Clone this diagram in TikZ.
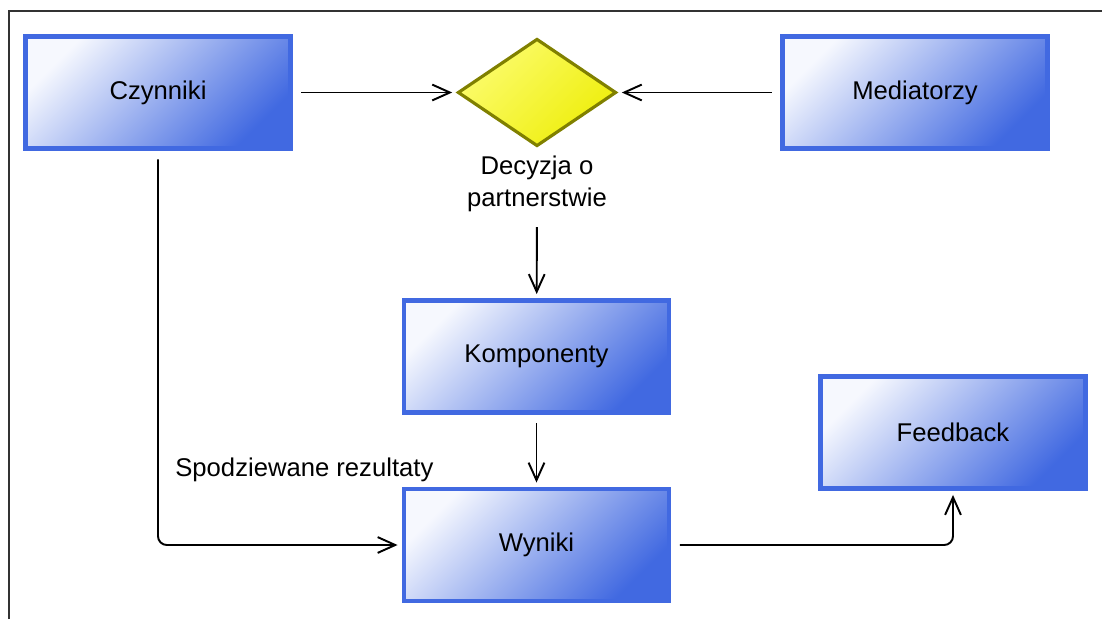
\documentclass[tikz,border=0pt]{standalone}
\usepackage{fontspec}
\setmainfont{Liberation Sans}
\usepackage{xcolor}
\usepackage{tikz}
\usetikzlibrary{arrows.meta}
\usetikzlibrary{shapes.geometric, calc}
\definecolor{royal}{RGB}{65,105,225}
\definecolor{boxlight}{RGB}{246,248,254}
\definecolor{olivebord}{RGB}{128,128,0}
\definecolor{yellowlight}{RGB}{252,252,110}
\definecolor{yellowdark}{RGB}{238,238,10}

\begin{document}
\begin{tikzpicture}[x=0.02cm, y=-0.02cm,
    every node/.style={font=\fontsize{14.6}{18}\selectfont},
    box/.style={rectangle, draw=royal, line width=2.8pt, inner sep=0pt,
        minimum width=5.3cm, minimum height=2.24cm,
        left color=boxlight, right color=royal, shading angle=45},
    choice/.style={diamond, draw=olivebord, line width=1.8pt, inner sep=0pt,
        minimum width=3.17cm, minimum height=2.15cm,
        left color=yellowlight, right color=yellowdark, shading angle=45},
    arr/.style={-{Straight Barb[length=10pt,width=9pt]}, line width=1.1pt,
        shorten <=0.17cm, shorten >=0.08cm}]
    % Cadre
    \useasboundingbox (0,0) rectangle (1102,619);
    \draw[line width=1.1pt, black!80] (9,619) -- (9,11) -- (1102,11);

    % Blocs
    \node[box] (czynniki) at (158,92.5) {Czynniki};
    \node[box] (mediatorzy) at (915,92.5) {Mediatorzy};
    \node[box] (komponenty) at (536.5,356.5) {Komponenty};
    \node[box] (wyniki) at (536.5,545) {Wyniki};
    \node[box] (feedback) at (953,432.5) {Feedback};

    % Decyzja
    \node[choice] (decyzja) at (537,92.5) {};
    \node[align=center, inner sep=0pt] (decyzjatxt) at (537,184) {Decyzja o\\partnerstwie};

    % Etykieta
    \node[anchor=west, inner sep=0pt] (rezultaty) at (175,470) {Spodziewane rezultaty};

    % Strzalki
    \draw[arr] (czynniki) -- (decyzja);
    \draw[arr] (mediatorzy) -- (decyzja);
    \draw[arr, shorten <=0.3cm] (decyzjatxt) -- (komponenty);
    \draw[arr] (komponenty) -- (wyniki);
    \draw[arr, rounded corners=5] (czynniki.south) |- (wyniki.west);
    \draw[arr, rounded corners=5] (wyniki.east) -| (feedback.south);
\end{tikzpicture}
\end{document}
